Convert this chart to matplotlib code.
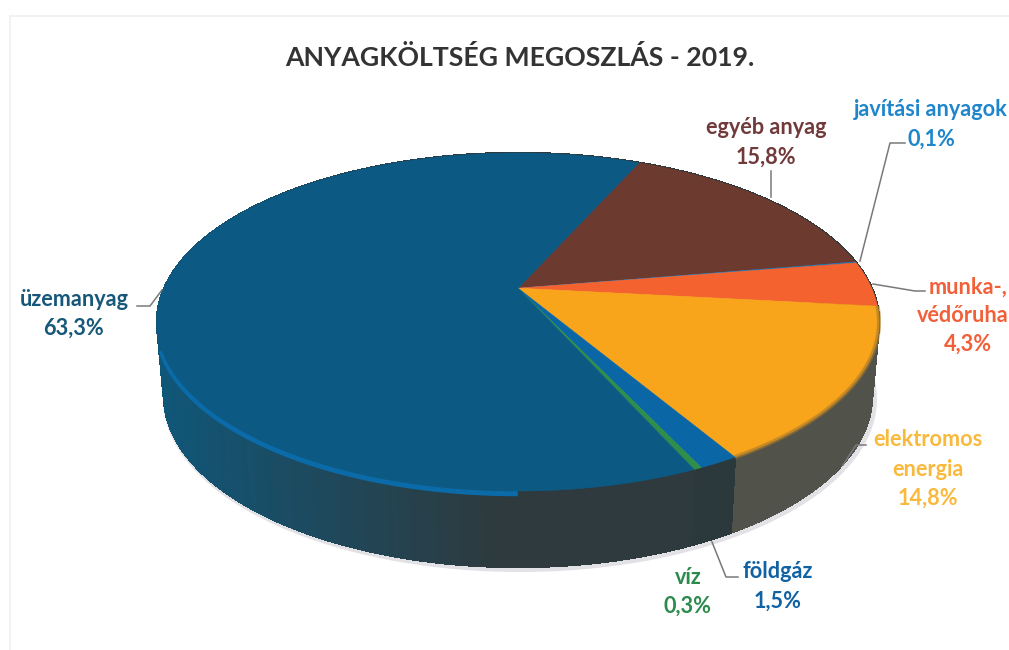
import numpy as np
import matplotlib
matplotlib.use('Agg')
import matplotlib.pyplot as plt
from matplotlib.patches import Polygon

# clockwise order, starting at the top edge of "egyéb anyag"
categories = ['egyéb anyag', 'javítási anyagok', 'munka-, védőruha', 'elektromos energia',
              'földgáz', 'víz', 'üzemanyag']
values = [15.8, 0.1, 4.3, 14.8, 1.5, 0.3, 63.3]
title = 'ANYAGKÖLTSÉG MEGOSZLÁS - 2019.'

face_colors = ['#6d3a30', '#1b7fc4', '#f4622f', '#f9a51c', '#0b66a6', '#2f8f4a', '#0c5a84']
text_colors = {'egyeb': '#70393a', 'jav': '#1f86cc', 'munka': '#f2603a', 'elek': '#f9b93c',
               'fold': '#0f62a4', 'viz': '#2c8a4c', 'uzem': '#17587a'}

plt.rcParams['font.family'] = ['Lato', 'DejaVu Sans']

# geometry of the drawn disc, in image pixels
cx, cy, rx, ry = 518, 322, 361, 169
bx, by, brx, bry = 518, 396, 354, 171
tilt = -0.2       # moves the pie centre towards the back, like perspective
start_deg = 23.5


def project(theta, r=1.0):
    # circle -> ellipse with a projective map, so slice angles stay true to the data
    x = r * np.sin(theta)
    y = -r * np.cos(theta)
    d = 1 + tilt * y
    return x * np.sqrt(1 - tilt ** 2) / d, (y + tilt) / d


def rim(theta, top=True):
    u, v = project(theta)
    if top:
        return cx + rx * u, cy + ry * v
    return bx + brx * u, by + bry * v


def side_color(slice_name, x):
    if slice_name == 'üzemanyag':
        t = np.clip((x - 160) / 340, 0, 1)
        a = np.array([0x10, 0x56, 0x78]) * (1 - t) + np.array([0x2e, 0x3a, 0x3d]) * t
        return a / 255
    if slice_name == 'elektromos energia':
        return '#51524a'
    return '#2c393c'


fig = plt.figure(figsize=(10.09, 6.5), dpi=100)
ax = fig.add_axes([0, 0, 1, 1])
ax.set_xlim(0, 1009)
ax.set_ylim(650, 0)
ax.axis('off')

# scan edges of the sheet
ax.plot([10, 10], [16, 650], color='#f0f0f0', lw=1.2)
ax.plot([10, 1009], [16, 16], color='#f0f0f0', lw=1.2)

edges = np.radians(start_deg + np.concatenate([[0], np.cumsum(values)]) * 3.6)

# soft shadow under the disc
t = np.linspace(0, 2 * np.pi, 300)
ax.add_patch(Polygon(np.c_[bx + 2 + (brx + 3) * np.cos(t), by + 3 + (bry + 2) * np.sin(t)],
                     fc='#e2e2e6', ec='none', zorder=1))

# side wall
for i, name in enumerate(categories):
    th = np.linspace(edges[i], edges[i + 1], max(3, int(values[i] * 6)))
    for a, b in zip(th[:-1], th[1:]):
        p = [rim(a), rim(b), rim(b, False), rim(a, False)]
        c = side_color(name, (p[0][0] + p[1][0]) / 2)
        ax.add_patch(Polygon(p, fc=c, ec=c, lw=1.0, antialiased=False, zorder=2))

# rounded lower lip of the top face on the fuel slice
th = np.linspace(edges[6], edges[7], 200)
pts = np.array([rim(a) for a in th])
keep = (pts[:, 1] > 345) & (pts[:, 0] < 520)
ax.plot(pts[keep, 0], pts[keep, 1] + 2.5, color='#0b6aa8', lw=4, zorder=3, solid_capstyle='butt')

# top faces
apex = (cx, cy + ry * tilt)
for i, name in enumerate(categories):
    th = np.linspace(edges[i], edges[i + 1], max(3, int(values[i] * 6)))
    p = [apex] + [rim(a) for a in th]
    ax.add_patch(Polygon(p, fc=face_colors[i], ec=face_colors[i], lw=0.4, zorder=4))

# darker, slightly blurred rim on the orange slice
th = np.linspace(edges[3], edges[4], 80)
pts = np.array([rim(a) for a in th])
ax.plot(pts[:, 0], pts[:, 1], color='#a87a2a', lw=3, alpha=0.6, zorder=4.5, solid_capstyle='butt')

# title
ax.text(520, 58, title, fontsize=19.2, fontweight='bold', color='#333333', ha='center', va='center')


def label(x, y, lines, color, gap=29, size=15.6):
    for n, s in enumerate(lines):
        ax.text(x, y + n * gap, s, fontsize=size, fontweight='bold', color=color,
                ha='center', va='center', zorder=6)


label(766, 128, ['egyéb anyag', '15,8%'], text_colors['egyeb'])
label(931, 110, ['javítási anyagok'], text_colors['jav'])
label(931, 139, ['0,1%'], text_colors['jav'])
label(968, 287, ['munka-,'], text_colors['munka'])
label(963, 316, ['védőruha'], text_colors['munka'])
label(968, 344, ['4,3%'], text_colors['munka'])
label(928, 440, ['elektromos', 'energia', '14,8%'], text_colors['elek'])
label(778, 572, ['földgáz', '1,5%'], text_colors['fold'])
label(688, 577, ['víz', '0,3%'], text_colors['viz'])
label(74, 299, ['üzemanyag', '63,3%'], text_colors['uzem'])

# leader lines
leaders = [
    ([771, 771], [171, 197]),
    ([860, 890, 905], [261, 143, 143]),
    ([873, 915, 925], [284, 291, 291]),
    ([843, 856, 866], [465, 445, 445]),
    ([712, 726, 738], [542, 577, 577]),
    ([137, 150, 162], [306, 306, 290]),
]
for xs, ys in leaders:
    ax.plot(xs, ys, color='#77797b', lw=1.1, zorder=5)

fig.savefig('out.png', dpi=100)
